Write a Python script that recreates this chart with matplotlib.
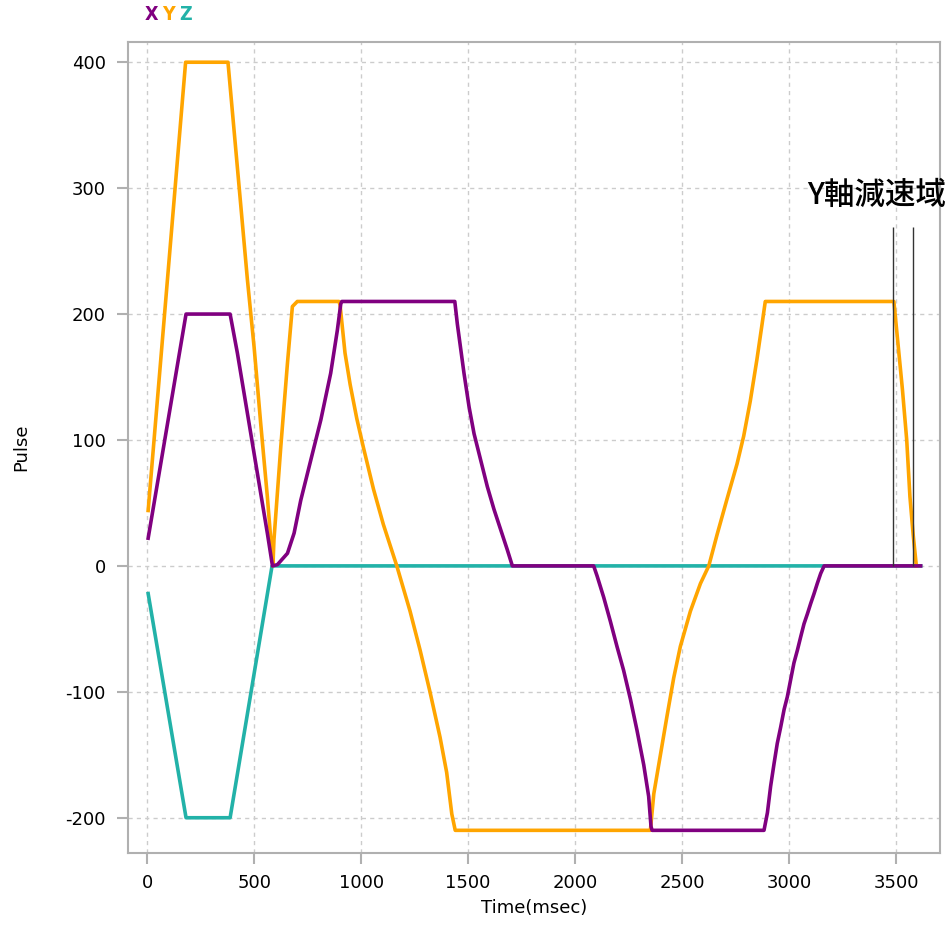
import matplotlib
matplotlib.use("Agg")
import matplotlib.pyplot as plt
from matplotlib.ticker import FuncFormatter

# pulse trace per axis (time in msec, pulse)
x_t = [5, 182, 388, 422, 469, 515, 562, 586, 609, 656, 687, 718, 765,
       812, 858, 889, 905, 910, 1438, 1450, 1481, 1505, 1528, 1559,
       1590, 1621, 1652, 1683, 1707, 2087, 2103, 2134, 2165, 2196, 2227, 2259,
       2290, 2321, 2344, 2355, 2360, 2883, 2899, 2914,
       2930, 2945, 2961, 2977, 2992, 3008, 3023, 3039, 3055, 3070, 3086, 3101,
       3117, 3132, 3148, 3164, 3615]
x_p = [22, 200, 200, 169, 121, 74, 26, 0, 1, 10, 26, 52, 84,
       116, 153, 187, 208, 210, 210, 192, 153, 126, 105, 84,
       63, 45, 29, 13, 0, 0, -8, -25, -44, -64, -83, -106,
       -131, -158, -183, -207, -210, -210, -196, -175,
       -157, -141, -128, -114, -104, -90, -77, -67, -56, -46, -38, -30,
       -22, -14, -6, 0, 0]

y_t = [5, 180, 378, 469, 500, 531, 562, 588, 593, 625, 656,
       679, 702, 897, 902, 925, 949, 980, 1011, 1058, 1104, 1167, 1229,
       1276, 1322, 1369, 1400, 1424, 1440, 2352, 2368,
       2399, 2430, 2461, 2492, 2539, 2586, 2625, 2664, 2710, 2757, 2788, 2819,
       2850, 2874, 2889, 3490, 3510, 3530, 3550, 3565, 3580, 3595]
y_p = [44, 400, 400, 227, 174, 113, 55, 0, 21, 95, 161,
       206, 210, 210, 207, 169, 144, 117, 94, 61, 33, 0, -36,
       -67, -100, -136, -164, -197, -210, -210, -181,
       -150, -119, -89, -64, -36, -14, 0, 25, 53, 81, 103, 131,
       164, 192, 210, 210, 175, 140, 100, 55, 25, 0]

z_t = [5, 182, 388, 584, 3615]
z_p = [-22, -200, -200, 0, 0]

# deceleration window of the Y axis
decel_t = [3486, 3578]
decel_top = 269

fig = plt.figure(figsize=(9.52, 9.35), dpi=100)
ax = fig.add_axes([0.1345, 0.0877, 0.853, 0.8673])

ax.plot(z_t, z_p, color="#22b2a8", lw=2.6, zorder=3)
ax.plot(y_t, y_p, color="#ffa500", lw=2.6, zorder=4)
ax.plot(x_t, x_p, color="#800080", lw=2.6, zorder=5)
ax.vlines(decel_t, 0, decel_top, color="#333333", lw=1.0, zorder=6)

ax.text(3086, 294, "Y軸減速域", fontsize=22, color="black", fontweight="medium",
        family=["Noto Sans CJK JP", "DejaVu Sans"], va="center", ha="left",
        clip_on=False, zorder=7)

ax.set_xlim(-89, 3706)
ax.set_ylim(-228, 416)
ax.set_xticks(range(0, 3501, 500))
ax.set_yticks(range(-200, 401, 100))
ax.yaxis.set_major_formatter(FuncFormatter(lambda v, p: "%d" % v))

ax.grid(True, color="#cccccc", linestyle=(0, (3, 3)), linewidth=1.0)
ax.set_axisbelow(True)
for s in ax.spines.values():
    s.set_color("#b0b0b0")
    s.set_linewidth(1.5)
ax.tick_params(axis="both", colors="#b0b0b0", labelcolor="black", labelsize=13,
               length=8, width=1.5)
ax.tick_params(axis="y", pad=8)
ax.tick_params(axis="x", pad=7)

ax.set_xlabel("Time(msec)", fontsize=13, labelpad=5)
ax.set_ylabel("Pulse", fontsize=13, labelpad=25)

# series key above the plot
for txt, xpos, col in [("X", 0.1586, "#800080"), ("Y", 0.1765, "#ffa500"),
                       ("Z", 0.1954, "#22b2a8")]:
    fig.text(xpos, 0.984, txt, color=col, fontsize=14, fontweight="bold",
             family="DejaVu Sans", stretch="condensed", ha="center", va="center")

fig.savefig("out.png", dpi=100)
